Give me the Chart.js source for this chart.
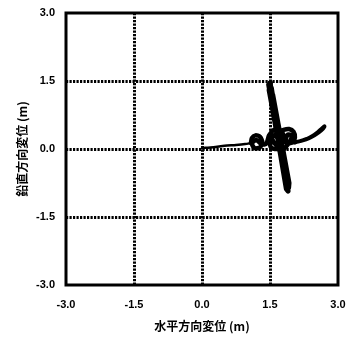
<!DOCTYPE html>
<html>
<head>
<meta charset="utf-8">
<script src="https://cdn.jsdelivr.net/npm/chart.js@4/dist/chart.umd.min.js"></script>
<style>
    body { margin: 0; background: #fff; }
    #wrap { width: 350px; height: 339px; }
</style>
</head>
<body>
<div id="wrap"><canvas id="trackChart" width="350" height="339"></canvas></div>
<script>
// axis ticks
const tickValues = [-3.0, -1.5, 0.0, 1.5, 3.0];

// horizontal / vertical displacement (m)
// drift from the origin
const baseX = [0.00, 0.25, 0.50, 0.75, 0.95, 1.08];
const baseY = [0.02, 0.04, 0.07, 0.09, 0.11, 0.13];

// loops and knot near x = 1.1 .. 2.1
const knotX = [
    1.08, 1.10, 1.18, 1.28, 1.33, 1.27, 1.16, 1.10, 1.20, 1.32, 1.42, 1.48, 1.58, 1.72, 1.80, 1.76,
    1.64, 1.52, 1.50, 1.60, 1.70, 1.62, 1.55, 1.68, 1.80, 1.92, 2.02, 2.05, 2.00, 1.90, 1.85, 1.90,
    1.97, 1.95, 1.85, 1.75, 1.65, 1.72, 1.85, 2.05
];
const knotY = [
    0.13, 0.24, 0.30, 0.27, 0.15, 0.03, 0.02, 0.12, 0.20, 0.10, 0.12, 0.30, 0.42, 0.42, 0.30, 0.10,
    0.00, 0.04, 0.20, 0.30, 0.20, 0.10, 0.25, 0.36, 0.42, 0.44, 0.38, 0.25, 0.15, 0.13, 0.22, 0.32,
    0.30, 0.18, 0.05, -0.05, 0.05, 0.25, 0.15, 0.15
];

// tail to the right
const tailX = [2.05, 2.18, 2.31, 2.43, 2.53, 2.62, 2.70, 2.67, 2.58, 2.48, 2.36, 2.22, 2.10];
const tailY = [0.15, 0.18, 0.22, 0.28, 0.35, 0.43, 0.50, 0.45, 0.37, 0.30, 0.24, 0.19, 0.16];

// the long oscillation blade through the knot
const bladeX = [1.47, 1.86, 1.90, 1.50, 1.51, 1.91, 1.92, 1.56, 1.50, 1.84, 1.88, 1.53, 1.48, 1.87];
const bladeY = [1.42, -0.88, -0.93, 1.46, 1.38, -0.86, -0.75, 1.20, 1.20, -0.72, -0.85, 1.35, 1.30, -0.80];

const xTitle = "水平方向変位 (m)";
const yTitle = "鉛直方向変位 (m)";

const toPoints = (xs, ys) => xs.map((x, i) => ({ x: x, y: ys[i] }));

function trace(xs, ys, width, tension) {
    return {
        data: toPoints(xs, ys),
        showLine: true,
        borderColor: "#000",
        borderWidth: width,
        borderCapStyle: "round",
        borderJoinStyle: "round",
        pointRadius: 0,
        tension: tension
    };
}

// frame around the plot area
const framePlugin = {
    id: "frame",
    afterDraw(chart) {
        const a = chart.chartArea;
        const ctx = chart.ctx;
        ctx.save();
        ctx.strokeStyle = "#000";
        ctx.lineWidth = 3;
        ctx.strokeRect(a.left, a.top, a.right - a.left, a.bottom - a.top);
        ctx.restore();
    }
};

function gridColor(c) {
    if (!c.tick) return "#000";
    return Math.abs(c.tick.value) === 3 ? "rgba(0,0,0,0)" : "#000";
}

const tickFont = { family: "'Liberation Sans', Arial, sans-serif", size: 11, weight: "bold" };
const titleFont = { family: "'Noto Sans CJK JP', sans-serif", size: 12, weight: "bold" };

const ctx = document.getElementById("trackChart").getContext("2d");

new Chart(ctx, {
    type: "scatter",
    data: {
        datasets: [
            trace(baseX, baseY, 2.5, 0.25),
            trace(knotX, knotY, 4.5, 0.25),
            trace(tailX, tailY, 4, 0.3),
            trace(bladeX, bladeY, 5, 0)
        ]
    },
    options: {
        responsive: false,
        animation: false,
        layout: { padding: { left: 0, right: 12, top: 13, bottom: 0 } },
        plugins: {
            legend: { display: false },
            tooltip: { enabled: false }
        },
        scales: {
            x: {
                type: "linear",
                min: -3, max: 3,
                afterBuildTicks: s => { s.ticks = tickValues.map(v => ({ value: v })); },
                afterFit: s => { s.height = 54; s.paddingLeft = 0; s.paddingRight = 0; },
                ticks: { color: "#000", font: tickFont, padding: 13, maxRotation: 0,
                    callback: v => v.toFixed(1) },
                grid: { color: gridColor, lineWidth: 3, drawTicks: false },
                border: { display: false, dash: [2.2, 1.3] },
                title: { display: true, text: xTitle, color: "#000", font: titleFont,
                    padding: { top: 0, bottom: 5 } }
            },
            y: {
                type: "linear",
                min: -3, max: 3,
                afterBuildTicks: s => { s.ticks = tickValues.map(v => ({ value: v })); },
                afterFit: s => { s.width = 66; s.paddingTop = 0; s.paddingBottom = 0; },
                ticks: { color: "#000", font: tickFont, padding: 11,
                    callback: v => v.toFixed(1) },
                grid: { color: gridColor, lineWidth: 3, drawTicks: false },
                border: { display: false, dash: [2.2, 1.3] },
                title: { display: true, text: yTitle, color: "#000", font: titleFont,
                    padding: { top: 15, bottom: 0 } }
            }
        }
    },
    plugins: [framePlugin]
});
</script>
</body>
</html>
